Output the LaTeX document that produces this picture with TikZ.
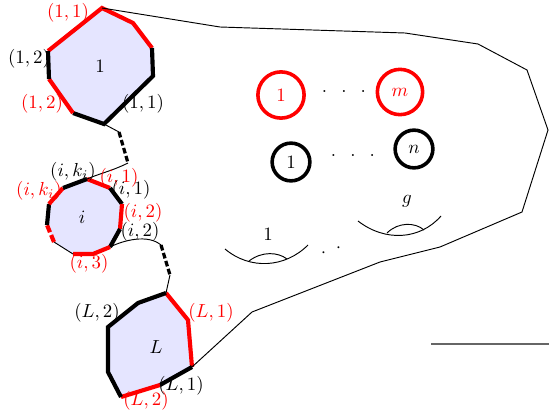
\documentclass[tikz,border=0pt]{standalone}
\usepackage{amsmath,amssymb}
\usepackage{tikz}
\usetikzlibrary{calc}
\tikzset{
    redseg/.style={line width=2.2pt, draw=red},      % red boundary piece
    blkseg/.style={line width=2.2pt, draw=black},    % black boundary piece
    reddash/.style={line width=2.2pt, draw=red, dash pattern=on 4pt off 1.6pt},
    thinarc/.style={line width=0.5pt, draw=black},
    linkdash/.style={line width=1.7pt, draw=black, dash pattern=on 3pt off 1.4pt},
    cellfill/.style={fill=blue!10},
    redlabel/.style={text=red, inner sep=0pt},
    blklabel/.style={text=black, inner sep=0pt},
    bdry/.style={circle, line width=1.9pt, inner sep=0pt}
}

\begin{document}
\begin{tikzpicture}[x=0.53pt, y=-0.53pt]

    \useasboundingbox (0,0) rectangle (549,414);

    % =========================================================================
    % CORNERS OF THE THREE CELLS
    % =========================================================================
    % cell 1
    \coordinate (a1) at (102,8);
    \coordinate (a2) at (133,23);
    \coordinate (a3) at (152,48);
    \coordinate (a4) at (153,76);
    \coordinate (a5) at (104,124);
    \coordinate (a6) at (73,113);
    \coordinate (a7) at (49,79);
    \coordinate (a8) at (48,51);
    % cell i
    \coordinate (b1) at (87,179);
    \coordinate (b2) at (110,188);
    \coordinate (b3) at (122,204);
    \coordinate (b4) at (120,229);
    \coordinate (b5) at (110,247);
    \coordinate (b6) at (93,254);
    \coordinate (b7) at (73,254);
    \coordinate (b8) at (54,242);
    \coordinate (b9) at (47,225);
    \coordinate (b10) at (49,204);
    \coordinate (b11) at (63,188);
    % cell L
    \coordinate (c1) at (166,293);
    \coordinate (c2) at (188,320);
    \coordinate (c3) at (192,367);
    \coordinate (c4) at (160,385);
    \coordinate (c5) at (121,397);
    \coordinate (c6) at (108,372);
    \coordinate (c7) at (108,327);
    \coordinate (c8) at (138,303);

    % label hidden partly under the cell
    \node[blklabel] (l12b) at (29,59) {$(1,2)$};

    % =========================================================================
    % CELL 1
    % =========================================================================
    \fill[cellfill] (a1) -- (a2) -- (a3) -- (a4) -- (a5) -- (a6) -- (a7) -- (a8) -- cycle;
    \draw[redseg] (a8) -- (a1) -- (a2) -- (a3);
    \draw[blkseg] (a3) -- (a4) -- (a5) -- (a6);
    \draw[redseg] (a6) -- (a7);
    \draw[blkseg] (a7) -- (a8);
    \node (n1) at (100,66) {$1$};

    % =========================================================================
    % CELL i
    % =========================================================================
    \fill[cellfill] (b1) -- (b2) -- (b3) -- (b4) -- (b5) -- (b6) -- (b7) -- (b8)
        -- (b9) -- (b10) -- (b11) -- cycle;
    \draw[redseg] (b1) -- (b2);
    \draw[blkseg] (b2) -- (b3);
    \draw[redseg] (b3) -- (b4);
    \draw[blkseg] (b4) -- (b5);
    \draw[redseg] (b5) -- (b6) -- (b7);
    \draw[thinarc] (b7) -- (b8);
    \draw[reddash] (b8) -- (b9);
    \draw[blkseg] (b9) -- (b10);
    \draw[redseg] (b10) -- (b11);
    \draw[blkseg] (b11) -- (b1);
    \node (ni) at (82,217) {$i$};

    % =========================================================================
    % CELL L
    % =========================================================================
    \fill[cellfill] (c1) -- (c2) -- (c3) -- (c4) -- (c5) -- (c6) -- (c7) -- (c8) -- cycle;
    \draw[redseg] (c1) -- (c2) -- (c3);
    \draw[blkseg] (c3) -- (c4);
    \draw[redseg] (c4) -- (c5);
    \draw[blkseg] (c5) -- (c6) -- (c7) -- (c8) -- (c1);
    \node (nL) at (156,347) {$L$};

    % =========================================================================
    % LINKS BETWEEN THE CELLS
    % =========================================================================
    \coordinate (k1) at (119,132);
    \coordinate (k2) at (128,163);
    \draw[thinarc] (a5) -- (k1);
    \draw[linkdash] (k1) -- (k2);
    \draw[thinarc] (k2) .. controls (112,171) and (98,174) .. (b1);

    \coordinate (k3) at (161,245);
    \coordinate (k4) at (170,275);
    \draw[thinarc] (b5) .. controls (124,240) and (148,234) .. (k3);
    \draw[linkdash] (k3) -- (k4);
    \draw[thinarc] (k4) -- (c1);

    % =========================================================================
    % OUTER SURFACE
    % =========================================================================
    \draw[thinarc] (a1) -- (220,27) -- (405,33) -- (478,44) -- (527,70)
        -- (548,130) -- (522,212) -- (440,247) -- (380,262) -- (252,312) -- (c3);

    % boundary circles
    \node[bdry, draw=red, text=red, minimum size=24.5pt] (r1) at (281,95) {$1$};
    \node[bdry, draw=red, text=red, minimum size=24pt] (rm) at (400,92) {$m$};
    \node (rdots) at (344,92) {$.\hspace{7.5pt}.\hspace{7.5pt}.$};
    \node[bdry, draw=black, minimum size=20pt] (s1) at (291,162) {$1$};
    \node[bdry, draw=black, minimum size=20pt] (sn) at (414,149) {$n$};
    \node (sdots) at (353,156) {$.\hspace{7.5pt}.\hspace{7.5pt}.$};

    % handles
    \draw[thinarc] (225,249) .. controls (250,270) and (285,268) .. (308,245);
    \draw[thinarc] (249,261) .. controls (262,251) and (278,252) .. (287,259);
    \node (h1) at (268,234) {$1$};
    \draw[thinarc] (358,221) .. controls (385,242) and (420,240) .. (441,216);
    \draw[thinarc] (387,233) .. controls (398,222) and (415,222) .. (424,230);
    \node (hg) at (407,201) {$g$};
    \node[rotate=18] (hdots) at (331,250) {$.\hspace{5.6pt}.$};

    \coordinate (e1) at (431,344);
    \coordinate (e2) at (549,344);
    \draw[line width=0.6pt, draw=black!60] (e1) -- (e2);

    % =========================================================================
    % CORNER LABELS
    % =========================================================================
    \node[redlabel] (l11r) at (68,13) {$(1,1)$};
    \node[redlabel] (l12r) at (42,104) {$(1,2)$};
    \node[blklabel] (l11b) at (143,104) {$(1,1)$};

    \node[blklabel] (lkb) at (73,172) {$(i,k_i)$};
    \node[redlabel] (lkr) at (39,191) {$(i,k_i)$};
    \node[redlabel] (li1r) at (119,178) {$(i,1)$};
    \node[blklabel] (li1b) at (131,190) {$(i,1)$};
    \node[redlabel] (li2r) at (143,213) {$(i,2)$};
    \node[blklabel] (li2b) at (140,232) {$(i,2)$};
    \node[redlabel] (li3r) at (89,264) {$(i,3)$};

    \node[blklabel] (lL2b) at (97,313) {$(L,2)$};
    \node[redlabel] (lL1r) at (211,313) {$(L,1)$};
    \node[blklabel] (lL1b) at (181,386) {$(L,1)$};
    \node[redlabel] (lL2r) at (146,401) {$(L,2)$};
\end{tikzpicture}
\end{document}
